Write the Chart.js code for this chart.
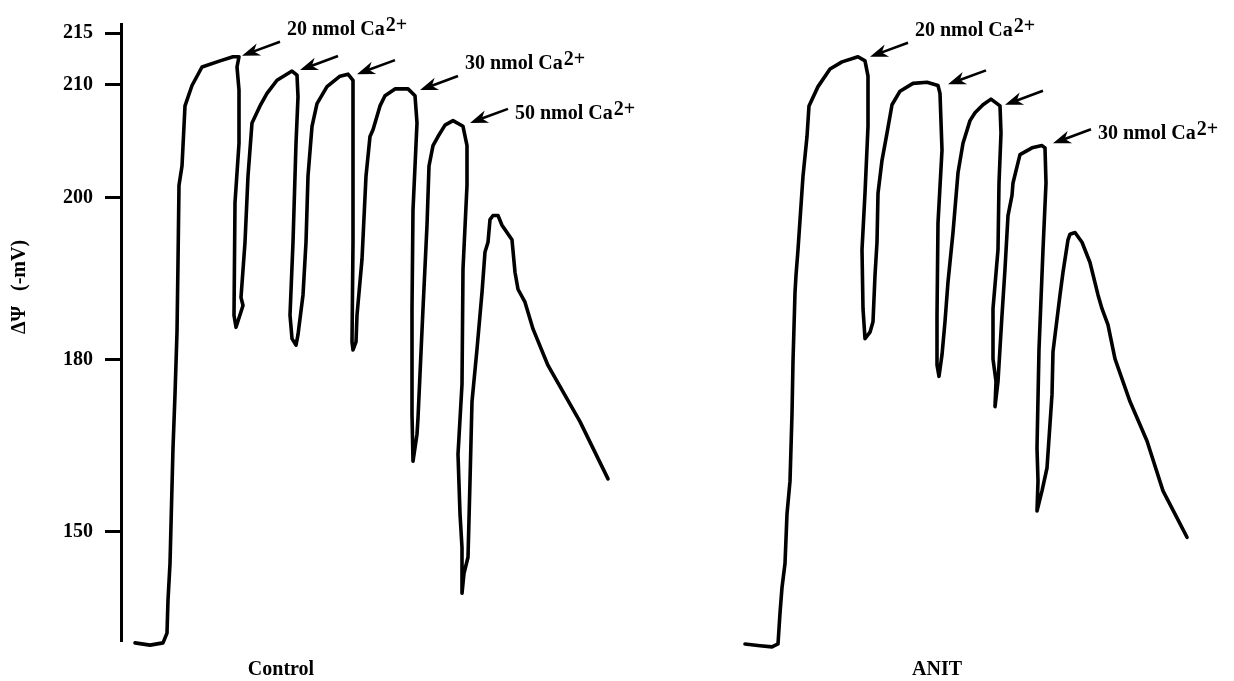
<!DOCTYPE html>
<html>
<head>
<meta charset="utf-8">
<title>ΔΨ traces, Control vs ANIT</title>
<script src="https://cdn.jsdelivr.net/npm/chart.js@4.4.1/dist/chart.umd.min.js"></script>
<style>
  html, body { margin: 0; padding: 0; background: #fff; }
  canvas { display: block; }
</style>
</head>
<body>
<canvas id="chart" width="1234" height="681"></canvas>
<script>
// membrane potential (shown as -mV) against recording time (arbitrary units)
const controlTime = [14, 29, 42, 46, 47, 49, 52, 54, 56, 57,
  58, 61, 64, 71, 81, 99, 112, 118, 116, 118,
  118, 114, 113, 115, 122, 120, 124, 127, 131, 139,
  146, 156, 171, 176, 177, 175, 172, 169, 171, 175,
  177, 182, 185, 187, 191, 196, 206, 219, 227, 232,
  232, 232, 231, 232, 235, 236, 241, 245, 249, 252,
  259, 264, 274, 287, 294, 296, 292, 291, 291, 292,
  296, 297, 302, 306, 308, 312, 317, 324, 332, 342,
  346, 346, 342, 341, 337, 339, 341, 341, 343, 347,
  349, 351, 356, 361, 364, 367, 369, 372, 377, 381,
  391, 394, 397, 404, 412, 427, 459, 487];
const controlPotential = [130.5, 130.1, 130.5, 132.2, 138.0, 144.4, 164.6, 173.9, 183.4, 192.0,
  201.1, 202.8, 208.1, 209.9, 211.7, 212.3, 212.7, 212.7, 211.7, 209.5,
  204.8, 199.4, 185.5, 184.0, 186.7, 187.7, 194.5, 201.9, 206.6, 208.1,
  209.2, 210.4, 211.3, 210.9, 208.9, 204.8, 194.5, 185.5, 182.6, 181.8,
  183.1, 188.0, 194.5, 201.9, 206.3, 208.3, 209.8, 210.8, 211.0, 210.4,
  204.8, 194.5, 182.2, 181.2, 182.2, 185.5, 192.4, 201.9, 205.4, 206.0,
  208.1, 209.0, 209.6, 209.6, 209.0, 206.6, 198.5, 186.3, 170.5, 162.3,
  167.0, 169.8, 186.3, 196.6, 202.8, 204.6, 205.4, 206.4, 206.8, 206.3,
  204.6, 201.1, 191.2, 175.7, 163.5, 153.1, 147.2, 139.2, 142.7, 145.5,
  158.8, 172.7, 181.3, 188.3, 193.3, 194.5, 197.3, 197.8, 197.8, 196.6,
  194.8, 190.8, 188.7, 187.1, 183.8, 179.0, 169.2, 159.2];

const anitTime = [624, 639, 651, 657, 659, 661, 664, 666, 669, 671,
  672, 674, 675, 677, 682, 686, 688, 697, 709, 721,
  737, 744, 747, 747, 744, 741, 742, 744, 749, 752,
  754, 756, 757, 761, 766, 771, 779, 792, 806, 817,
  819, 821, 817, 816, 816, 818, 821, 824, 827, 832,
  837, 842, 849, 854, 862, 870, 879, 880, 878, 877,
  872, 872, 875, 874, 877, 881, 884, 887, 891, 892,
  897, 899, 911, 921, 924, 925, 922, 918, 916, 917,
  916, 921, 926, 931, 932, 939, 942, 947, 949, 954,
  961, 969, 977, 981, 987, 994, 1009, 1026, 1042, 1056,
  1066];
const anitPotential = [130.3, 130.0, 129.8, 130.3, 135.7, 140.2, 144.4, 153.1, 158.8, 170.5,
  179.7, 188.3, 190.4, 193.6, 201.9, 205.4, 208.1, 209.8, 211.5, 212.2,
  212.7, 212.3, 210.8, 206.3, 200.4, 193.6, 186.3, 182.6, 183.4, 184.7,
  190.4, 194.5, 200.4, 203.3, 205.7, 208.2, 209.4, 210.1, 210.2, 209.9,
  209.2, 204.2, 196.9, 185.5, 179.1, 177.1, 180.6, 184.7, 189.6, 195.7,
  202.2, 204.8, 206.8, 207.5, 208.2, 208.7, 208.1, 205.7, 201.3, 193.6,
  186.3, 180.1, 176.2, 171.8, 176.2, 185.5, 191.2, 197.8, 200.2, 201.3,
  203.1, 203.8, 204.4, 204.6, 204.4, 201.3, 193.6, 181.3, 164.6, 158.8,
  153.6, 157.1, 161.1, 173.9, 181.0, 188.0, 190.8, 194.8, 195.5, 195.7,
  194.5, 192.0, 188.0, 186.3, 184.3, 180.1, 172.7, 165.8, 157.1, 152.4,
  149.0];

const panelLabels = ['Control', 'ANIT'];
const panelLabelTimes = [160, 816];

const yTicks = [150, 180, 200, 210, 215];
// the axis in the figure is not evenly spaced, so each break value gets its own share of the height
const yBreakValues = [131, 150, 180, 200, 210, 215, 215.9];
const yBreakFractions = [0, 0.176, 0.455, 0.718, 0.902, 0.985, 1];

// Ca2+ additions: where each arrow points
const additions = [
  { t: 121, mV: 212.8, label: '20 nmol Ca', place: 'above' },
  { t: 179, mV: 211.4 },
  { t: 236, mV: 211.0 },
  { t: 299, mV: 209.5, label: '30 nmol Ca', place: 'above' },
  { t: 349, mV: 206.6, label: '50 nmol Ca', place: 'beside' },
  { t: 749, mV: 212.7, label: '20 nmol Ca', place: 'above' },
  { t: 827, mV: 210.0 },
  { t: 884, mV: 208.2 },
  { t: 932, mV: 204.8, label: '30 nmol Ca', place: 'beside' }
];

const serif = '"Liberation Serif", "Times New Roman", serif';

function interp(v, xs, ys) {
  let i = 1;
  while (i < xs.length - 1 && v > xs[i]) i++;
  return ys[i - 1] + (v - xs[i - 1]) * (ys[i] - ys[i - 1]) / (xs[i] - xs[i - 1]);
}

class BrokenScale extends Chart.LinearScale {
  getPixelForValue(value) {
    return this.getPixelForDecimal(interp(value, yBreakValues, yBreakFractions));
  }
  getValueForPixel(pixel) {
    return interp(this.getDecimalForPixel(pixel), yBreakFractions, yBreakValues);
  }
}
BrokenScale.id = 'broken';
BrokenScale.defaults = Chart.LinearScale.defaults;
Chart.register(BrokenScale);

const notes = {
  id: 'notes',
  afterDraw(chart) {
    const { ctx, scales: { x, y } } = chart;
    ctx.save();
    ctx.fillStyle = '#000';
    ctx.strokeStyle = '#000';

    // y axis title
    ctx.save();
    ctx.translate(20, 287);
    ctx.rotate(-Math.PI / 2);
    ctx.font = 'bold 20px ' + serif;
    ctx.textAlign = 'center';
    ctx.textBaseline = 'middle';
    ctx.fillText('ΔΨ   (-mV)', 0, 0);
    ctx.restore();

    additions.forEach(a => {
      const tx = x.getPixelForValue(a.t);
      const ty = y.getPixelForValue(a.mV);
      const ex = tx + 38, ey = ty - 14;
      const len = Math.hypot(ex - tx, ey - ty);
      const ux = (ex - tx) / len, uy = (ey - ty) / len;
      const px = -uy, py = ux;
      const L = 18, W = 6.5;

      ctx.lineWidth = 2.6;
      ctx.beginPath();
      ctx.moveTo(tx + ux * L * 0.7, ty + uy * L * 0.7);
      ctx.lineTo(ex, ey);
      ctx.stroke();

      ctx.beginPath();
      ctx.moveTo(tx, ty);
      ctx.lineTo(tx + ux * L + px * W, ty + uy * L + py * W);
      ctx.lineTo(tx + ux * L * 0.7, ty + uy * L * 0.7);
      ctx.lineTo(tx + ux * L - px * W, ty + uy * L - py * W);
      ctx.closePath();
      ctx.fill();

      if (a.label) {
        const lx = ex + 7;
        const ly = a.place === 'above' ? ey - 7 : ey + 10;
        ctx.font = 'bold 20px ' + serif;
        ctx.textAlign = 'left';
        ctx.textBaseline = 'alphabetic';
        ctx.fillText(a.label, lx, ly);
        const w = ctx.measureText(a.label).width;
        ctx.fillText('2+', lx + w + 1, ly - 4);
      }
    });
    ctx.restore();
  }
};

const tickFont = { family: serif, size: 20, weight: 'bold' };

new Chart(document.getElementById('chart'), {
  type: 'line',
  data: {
    datasets: [{
      label: 'Control',
      data: controlTime.map((t, i) => ({ x: t, y: controlPotential[i] })),
      borderColor: '#000',
      borderWidth: 3.6,
      pointRadius: 0,
      tension: 0,
      borderJoinStyle: 'round',
      borderCapStyle: 'round',
      clip: false
    }, {
      label: 'ANIT',
      data: anitTime.map((t, i) => ({ x: t, y: anitPotential[i] })),
      borderColor: '#000',
      borderWidth: 3.6,
      pointRadius: 0,
      tension: 0,
      borderJoinStyle: 'round',
      borderCapStyle: 'round',
      clip: false
    }]
  },
  options: {
    responsive: false,
    animation: false,
    devicePixelRatio: 1,
    layout: { padding: { top: 20, right: 13, left: 0, bottom: 0 } },
    plugins: {
      legend: { display: false },
      tooltip: { enabled: false }
    },
    scales: {
      x: {
        type: 'linear',
        min: 0,
        max: 1100,
        grid: { display: false, drawTicks: false },
        border: { display: false },
        afterBuildTicks: s => { s.ticks = panelLabelTimes.map(v => ({ value: v })); },
        afterFit: s => { s.height = 41; },
        ticks: {
          autoSkip: false,
          maxRotation: 0,
          padding: 18,
          color: '#000',
          font: tickFont,
          callback: (v, i) => panelLabels[i]
        }
      },
      y: {
        type: 'broken',
        min: 131,
        max: 215.9,
        afterBuildTicks: s => { s.ticks = yTicks.map(v => ({ value: v })); },
        afterFit: s => { s.width = 121; },
        grid: {
          drawOnChartArea: false,
          drawTicks: true,
          tickLength: 16,
          tickWidth: 3,
          tickColor: '#000',
          lineWidth: 3,
          color: '#000'
        },
        border: { display: true, color: '#000', width: 3 },
        ticks: {
          padding: 12,
          color: '#000',
          font: tickFont,
          callback: v => String(v)
        }
      }
    }
  },
  plugins: [notes]
});
</script>
</body>
</html>
